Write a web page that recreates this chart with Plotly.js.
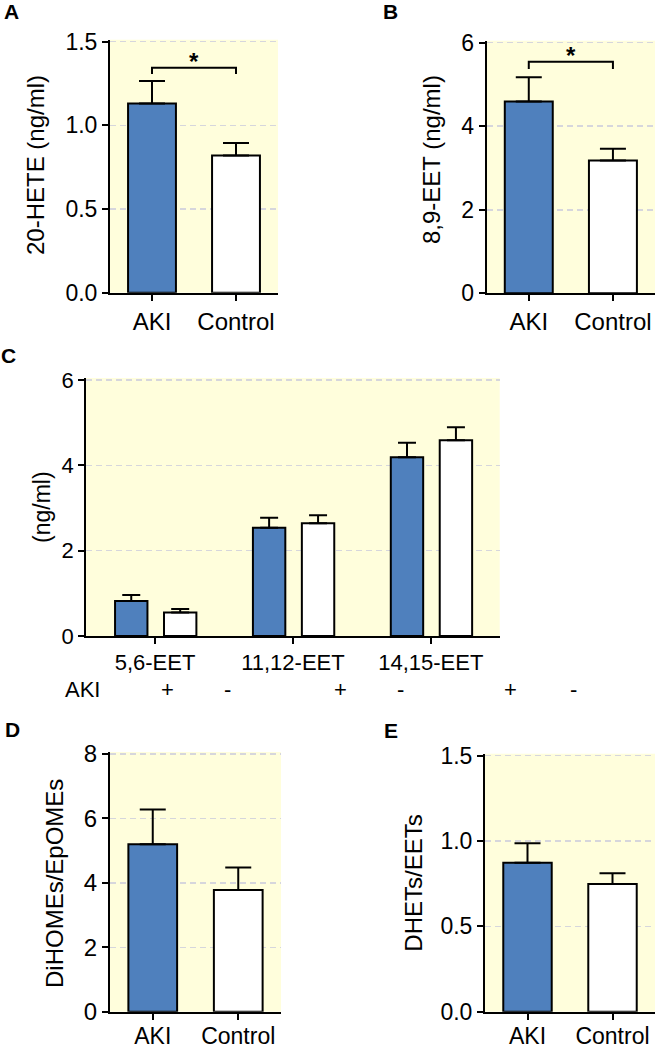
<!DOCTYPE html>
<html>
<head>
<meta charset="utf-8">
<script src="https://cdn.plot.ly/plotly-3.0.1.min.js"></script>
<style>html,body{margin:0;padding:0;background:#fff;}#chart{width:657px;height:1050px;}</style>
</head>
<body>
<div id="chart"></div>
<script>
// ---------- data ----------
const groups = ['AKI', 'Control'];
const heteMean = [1.13, 0.82];
const heteSem = [0.135, 0.075];
const eet89Mean = [4.59, 3.18];
const eet89Sem = [0.58, 0.28];
const eetCats = ['5,6-EET', '11,12-EET', '14,15-EET'];
const eetAkiMean = [0.82, 2.54, 4.19];
const eetAkiSem = [0.14, 0.23, 0.34];
const eetCtrlMean = [0.55, 2.64, 4.59];
const eetCtrlSem = [0.08, 0.19, 0.30];
const diHomeMean = [5.2, 3.78];
const diHomeSem = [1.08, 0.70];
const dhetMean = [0.873, 0.748];
const dhetSem = [0.114, 0.063];
const bracketX = ['AKI', 'AKI', 'Control', 'Control'];
const bracketA = [1.307, 1.345, 1.345, 1.307];
const bracketB = [5.37, 5.545, 5.545, 5.37];
const starA = 1.38;
const starB = 5.69;
const akiSigns = ['+', '-', '+', '-', '+', '-'];

// ---------- styling ----------
const W = 657, H = 1050;
const BLUE = '#4F80BD';
const FONT = 'Liberation Sans, Arial, sans-serif';
const px = v => v / W;
const py = v => 1 - v / H;
const zeros = a => a.map(() => 0);

function barTrace(xa, ya, x, y, err, colors, width, capW, offset) {
  const t = {
    type: 'bar', x: x, y: y, xaxis: xa, yaxis: ya,
    marker: {color: colors, line: {color: 'black', width: 2}},
    width: width,
    error_y: {type: 'data', symmetric: false, array: err, arrayminus: zeros(err),
              color: 'black', thickness: 2, width: capW},
    hoverinfo: 'skip'
  };
  if (offset !== undefined) t.offset = offset;
  return t;
}
function bracketTrace(xa, ya, y) {
  return {type: 'scatter', mode: 'lines', x: bracketX, y: y, xaxis: xa, yaxis: ya,
          line: {color: 'black', width: 2}, hoverinfo: 'skip'};
}

const traces = [
  barTrace('x', 'y', groups, heteMean, heteSem, [BLUE, 'white'], 0.57, 13),
  bracketTrace('x', 'y', bracketA),
  barTrace('x2', 'y2', groups, eet89Mean, eet89Sem, [BLUE, 'white'], 0.57, 13),
  bracketTrace('x2', 'y2', bracketB),
  barTrace('x3', 'y3', eetCats, eetAkiMean, eetAkiSem, BLUE, 0.235, 9, -0.29),
  barTrace('x3', 'y3', eetCats, eetCtrlMean, eetCtrlSem, 'white', 0.235, 9, 0.065),
  barTrace('x4', 'y4', groups, diHomeMean, diHomeSem, [BLUE, 'white'], 0.57, 13),
  barTrace('x5', 'y5', groups, dhetMean, dhetSem, [BLUE, 'white'], 0.57, 13)
];

function xAx(l, r, anchor, ncat, fs, standoff) {
  return {domain: [px(l), px(r)], anchor: anchor, type: 'category', range: [-0.5, ncat - 0.5],
          showline: true, linecolor: 'black', linewidth: 2, ticks: 'outside', ticklen: 6,
          tickwidth: 2, tickcolor: 'black', showgrid: false, zeroline: false,
          ticklabelstandoff: standoff || 0,
          tickfont: {family: FONT, size: fs, color: 'black'}, fixedrange: true};
}
// top gridline must sit > 1px inside the plot area to be drawn, so pad the range by 2px
function yAx(top, bottom, anchor, range, dtick, fmt, fs) {
  const pad = 2;
  const extra = (range[1] - range[0]) * pad / (bottom - top);
  return {domain: [py(bottom), py(top - pad)], anchor: anchor, range: [range[0], range[1] + extra],
          dtick: dtick, tick0: 0,
          tickformat: fmt, showline: true, linecolor: 'black', linewidth: 2, ticks: 'outside',
          ticklen: 6, tickwidth: 2, tickcolor: 'black', showgrid: true, gridcolor: '#D6D6DC',
          gridwidth: 1.5, griddash: '6px,4px', zeroline: false,
          tickfont: {family: FONT, size: fs, color: 'black'}, fixedrange: true};
}

const annotations = [];
function txt(x, y, text, size, opts) {
  annotations.push(Object.assign({xref: 'paper', yref: 'paper', x: px(x), y: py(y), text: text,
    showarrow: false, xanchor: 'center', yanchor: 'middle',
    font: {family: FONT, size: size, color: 'black'}}, opts || {}));
}
// panel letters
txt(11.5, 11, '<b>A</b>', 21);
txt(390, 11, '<b>B</b>', 21);
txt(8.5, 355, '<b>C</b>', 21);
txt(12.5, 729, '<b>D</b>', 21);
txt(390.5, 730, '<b>E</b>', 21);
// y axis titles
txt(35, 165, '20-HETE (ng/ml)', 24, {textangle: -90});
txt(431, 160, '8,9-EET (ng/ml)', 24, {textangle: -90});
txt(42, 507, '(ng/ml)', 23, {textangle: -90});
txt(54, 884, 'DiHOMEs/EpOMEs', 24, {textangle: -90});
txt(412.7, 883, 'DHETs/EETs', 24, {textangle: -90});
// AKI +/- row
txt(82, 689, 'AKI', 22);
const signX = [167, 227, 340, 400, 510, 573];
akiSigns.forEach((s, i) => txt(signX[i], 689, s, 22));
// significance stars
annotations.push({xref: 'x', yref: 'y', x: 0.5, y: starA, text: '<b>*</b>', showarrow: false,
  font: {family: FONT, size: 24, color: 'black'}, yanchor: 'middle'});
annotations.push({xref: 'x2', yref: 'y2', x: 0.5, y: starB, text: '<b>*</b>', showarrow: false,
  font: {family: FONT, size: 24, color: 'black'}, yanchor: 'middle'});

const layout = {
  width: W, height: H, margin: {l: 0, r: 0, t: 0, b: 0},
  paper_bgcolor: 'white', plot_bgcolor: '#FFFEDC', showlegend: false,
  barmode: 'group',
  xaxis: xAx(110, 278, 'y', 2, 24),
  yaxis: yAx(41.7, 292.7, 'x', [0, 1.5], 0.5, '.1f', 23),
  xaxis2: xAx(486.7, 655, 'y2', 2, 24),
  yaxis2: yAx(42.7, 293.3, 'x2', [0, 6], 2, 'd', 23),
  xaxis3: xAx(86.1, 499.7, 'y3', 3, 22),
  yaxis3: yAx(380, 636, 'x3', [0, 6], 2, 'd', 22),
  xaxis4: xAx(110, 281, 'y4', 2, 23, -3),
  yaxis4: yAx(754, 1011.7, 'x4', [0, 8], 2, 'd', 24),
  xaxis5: xAx(485, 655, 'y5', 2, 23, -3),
  yaxis5: yAx(755.7, 1011.7, 'x5', [0, 1.5], 0.5, '.1f', 23),
  annotations: annotations
};

Plotly.newPlot('chart', traces, layout, {displayModeBar: false, staticPlot: true});
</script>
</body>
</html>
